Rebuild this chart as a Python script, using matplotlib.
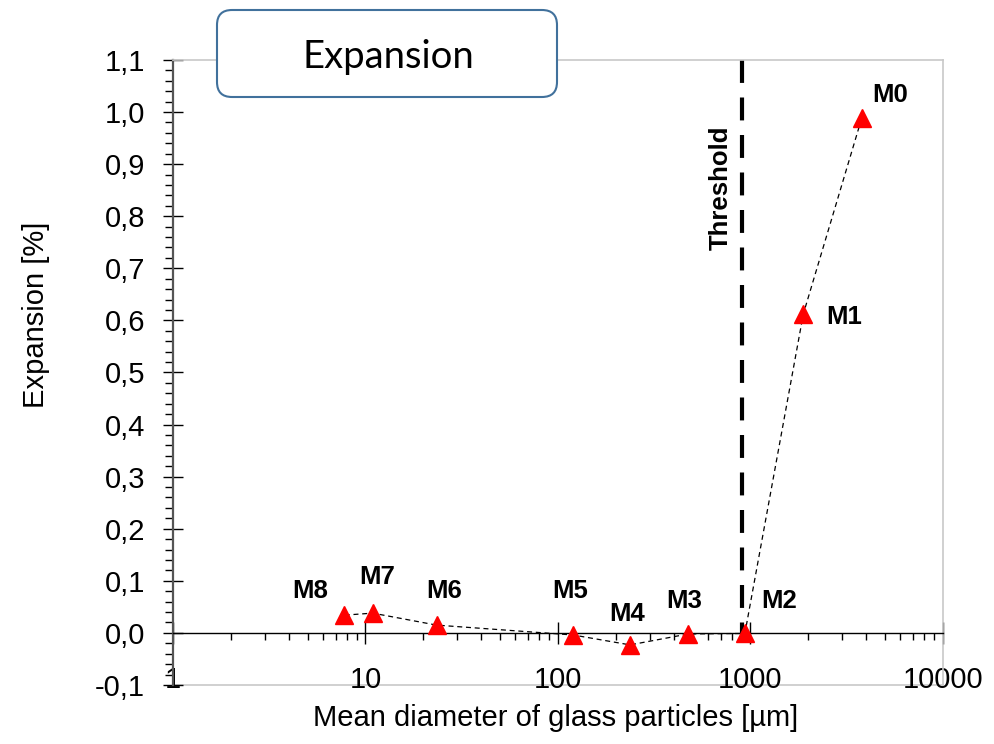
import matplotlib
matplotlib.use("Agg")
import matplotlib.pyplot as plt
from matplotlib.patches import FancyBboxPatch
from matplotlib.ticker import FixedLocator, LogLocator, MultipleLocator, FuncFormatter, NullFormatter

# values
labels = ['M0', 'M1', 'M2', 'M3', 'M4', 'M5', 'M6', 'M7', 'M8']
diameter = [3780, 1880, 935, 475, 237, 120, 23.4, 10.9, 7.7]   # µm
expansion = [0.988, 0.612, -0.001, -0.002, -0.023, -0.004, 0.015, 0.038, 0.034]  # %
threshold = 900
x_ticks = [1, 10, 100, 1000, 10000]

# label offsets from the marker, in points
label_offsets = [(20.4, 16.8), (29.3, -1.8), (24.8, 23.4), (-2.7, 23.6), (-2.5, 22.3),
                 (-2.0, 32.0), (5.2, 24.7), (3.5, 26.1), (-23.8, 17.5)]

plt.rcParams['font.family'] = ['Liberation Sans', 'DejaVu Sans']

fig = plt.figure(figsize=(9.94, 7.44), dpi=100)
ax = fig.add_axes([0.174, 0.0793, 0.7747, 0.8401])

ax.plot(diameter, expansion, color='black', lw=0.9, linestyle=(0, (4, 3)),
        marker='^', ms=13, mfc='red', mec='red', zorder=3)

for lab, x, y, off in zip(labels, diameter, expansion, label_offsets):
    ax.annotate(lab, (x, y), xytext=off, textcoords='offset points',
                ha='center', va='center', fontsize=18.5, fontweight='bold')

# threshold line, drawn from the top down so the dashes start at the frame
ax.plot([threshold, threshold], [1.1, 0.0], color='black', lw=3,
        linestyle=(0, (5.5, 3.5)), zorder=2)
ax.annotate('Threshold', (threshold, 0.855), xytext=(-15, 0), textcoords='offset points',
            rotation=90, ha='center', va='center', fontsize=18.5, fontweight='bold')

ax.set_xscale('log')
ax.set_xlim(1, 10000)
ax.set_ylim(-0.1, 1.1)

ax.xaxis.set_major_locator(FixedLocator(x_ticks))
ax.xaxis.set_minor_locator(LogLocator(base=10, subs=range(2, 10)))
ax.xaxis.set_major_formatter(FuncFormatter(lambda v, p: f"{v:g}"))
ax.xaxis.set_minor_formatter(NullFormatter())
ax.yaxis.set_major_locator(MultipleLocator(0.1))
ax.yaxis.set_minor_locator(MultipleLocator(0.02))
ax.yaxis.set_major_formatter(FuncFormatter(lambda v, p: f"{v:.1f}".replace('.', ',')))

ax.tick_params(axis='x', which='major', direction='inout', length=16, width=1,
               labelsize=21, pad=16)
ax.tick_params(axis='x', which='minor', direction='out', length=5, width=1)
ax.tick_params(axis='y', which='major', direction='inout', length=15, width=1,
               labelsize=21, pad=12.6)
ax.tick_params(axis='y', which='minor', direction='out', length=5.5, width=1)

# x axis sits at zero, the frame is light grey
ax.spines['bottom'].set_position(('data', 0))
ax.spines['bottom'].set_color('black')
ax.spines['bottom'].set_linewidth(1)
ax.spines['left'].set_color('#555555')
ax.spines['left'].set_linewidth(1.6)
for side in ['top', 'right']:
    ax.spines[side].set_color('#c8c8c8')
    ax.spines[side].set_linewidth(1.2)
ax.plot([0, 1], [0, 0], transform=ax.transAxes, color='#c8c8c8', lw=1.2,
        clip_on=False, zorder=0.5)

ax.set_xlabel('Mean diameter of glass particles [µm]', fontsize=21)
ax.set_ylabel('Expansion [%]', fontsize=21)
ax.xaxis.set_label_coords(0.497, -0.03)
ax.yaxis.set_label_coords(-0.16, 0.592)

# title box
box = FancyBboxPatch((2.17, 6.47), 3.40, 0.87, boxstyle='round,pad=0,rounding_size=0.15',
                     transform=fig.dpi_scale_trans, facecolor='white',
                     edgecolor='#41719c', lw=1.5)
fig.add_artist(box)
fig.text(3.88 / 9.94, 1 - 57 / 744, 'Expansion', ha='center', va='center',
         fontsize=27.5, family=['Lato', 'DejaVu Sans'])

fig.savefig('out.png', dpi=100)
